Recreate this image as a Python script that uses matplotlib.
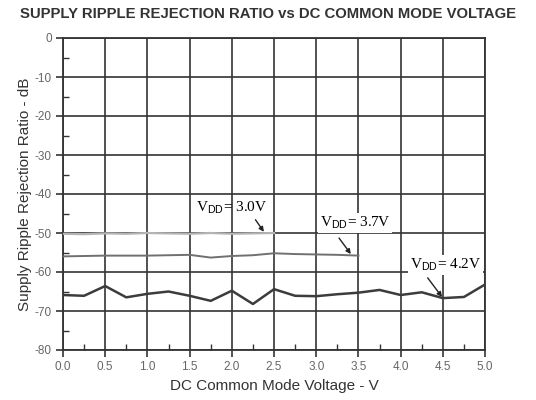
import matplotlib
matplotlib.use("Agg")
import matplotlib.pyplot as plt
from matplotlib.ticker import MultipleLocator

# data
v_30 = [0.0, 0.25, 0.5, 0.75, 1.0, 1.25, 1.5, 1.75, 2.0, 2.25, 2.5]
srr_30 = [-50.2, -50.3, -50.1, -50.2, -50.0, -50.1, -50.2, -50.0, -50.2, -50.1, -50.0]

v_37 = [0.0, 0.25, 0.5, 0.75, 1.0, 1.25, 1.5, 1.75, 2.0, 2.25, 2.5, 2.75, 3.0, 3.25, 3.5]
srr_37 = [-56.0, -55.9, -55.8, -55.8, -55.8, -55.7, -55.6, -56.3, -55.9, -55.7, -55.2,
          -55.4, -55.5, -55.6, -55.8]

v_42 = [0.0, 0.25, 0.5, 0.75, 1.0, 1.25, 1.5, 1.75, 2.0, 2.25, 2.5, 2.75, 3.0,
        3.25, 3.5, 3.75, 4.0, 4.25, 4.5, 4.75, 5.0]
srr_42 = [-65.9, -66.1, -63.6, -66.5, -65.6, -65.0, -66.1, -67.4, -64.8, -68.2, -64.4,
          -66.1, -66.2, -65.7, -65.3, -64.6, -65.9, -65.2, -66.7, -66.4, -63.2]

x_ticks = [0.0, 0.5, 1.0, 1.5, 2.0, 2.5, 3.0, 3.5, 4.0, 4.5, 5.0]
y_ticks = [0, -10, -20, -30, -40, -50, -60, -70, -80]

plt.rcParams["font.family"] = ["Liberation Sans", "DejaVu Sans"]
plt.rcParams["mathtext.fontset"] = "custom"
plt.rcParams["mathtext.rm"] = "Liberation Serif"
plt.rcParams["mathtext.sf"] = "Liberation Sans"

fig = plt.figure(figsize=(5.36, 4.0), dpi=100)
ax = fig.add_axes([0.1175, 0.125, 0.7875, 0.78])

grid_c = "#333333"
ax.plot(v_30, srr_30, color="#b4b4b4", lw=1.6, zorder=3)
ax.plot(v_37, srr_37, color="#707070", lw=1.4, zorder=3)
ax.plot(v_42, srr_42, color="#3c3c3c", lw=1.8, zorder=3)

ax.set_xlim(0, 5)
ax.set_ylim(-80, 0)
ax.set_xticks(x_ticks)
ax.set_xticklabels([f"{v:.1f}" for v in x_ticks])
ax.set_yticks(y_ticks)
ax.set_yticklabels([f"{v}" for v in y_ticks])
ax.xaxis.set_minor_locator(MultipleLocator(0.25))
ax.yaxis.set_minor_locator(MultipleLocator(5))
ax.tick_params(which="major", direction="out", length=5, width=1.2, color=grid_c,
               labelsize=8.5, labelcolor="#666666", pad=3)
ax.tick_params(which="minor", direction="in", length=4, width=1.0, color=grid_c)
ax.grid(True, which="major", color=grid_c, lw=1.2, zorder=1)
for s in ax.spines.values():
    s.set_color(grid_c)
    s.set_linewidth(1.3)

ax.set_xlabel("DC Common Mode Voltage - V", fontsize=11, color="#333333", labelpad=4)
ax.set_ylabel("Supply Ripple Rejection Ratio - dB", fontsize=11, color="#333333", labelpad=2)
fig.text(0.50, 0.965, "SUPPLY RIPPLE REJECTION RATIO vs DC COMMON MODE VOLTAGE",
         ha="center", va="center", fontsize=10.7, fontweight="bold", color="#333333")

lab_kw = dict(fontsize=11, family=["Liberation Serif", "DejaVu Serif"], ha="center",
              va="center", zorder=5)
box = dict(boxstyle="square,pad=0.1", fc="white", ec="none")
arrow = dict(arrowstyle="-|>", color="#222222", lw=1.0, mutation_scale=7,
             shrinkA=0, shrinkB=0)

ax.text(2.0, -43.6, r"$\mathrm{V}_{\mathsf{DD}}$= 3.0V", **lab_kw)
ax.text(3.46, -47.4, r"$\mathrm{V}_{\mathsf{DD}}$= 3.7V", bbox=box, **lab_kw)
ax.text(4.53, -58.2, r"$\mathrm{V}_{\mathsf{DD}}$= 4.2V", bbox=box, **lab_kw)

ax.annotate("", xy=(2.38, -49.7), xytext=(2.28, -46.6), arrowprops=arrow, zorder=5)
ax.annotate("", xy=(3.41, -55.4), xytext=(3.27, -51.3), arrowprops=arrow, zorder=5)
ax.annotate("", xy=(4.49, -66.4), xytext=(4.32, -61.5), arrowprops=arrow, zorder=5)

fig.savefig("out.png", dpi=100)
